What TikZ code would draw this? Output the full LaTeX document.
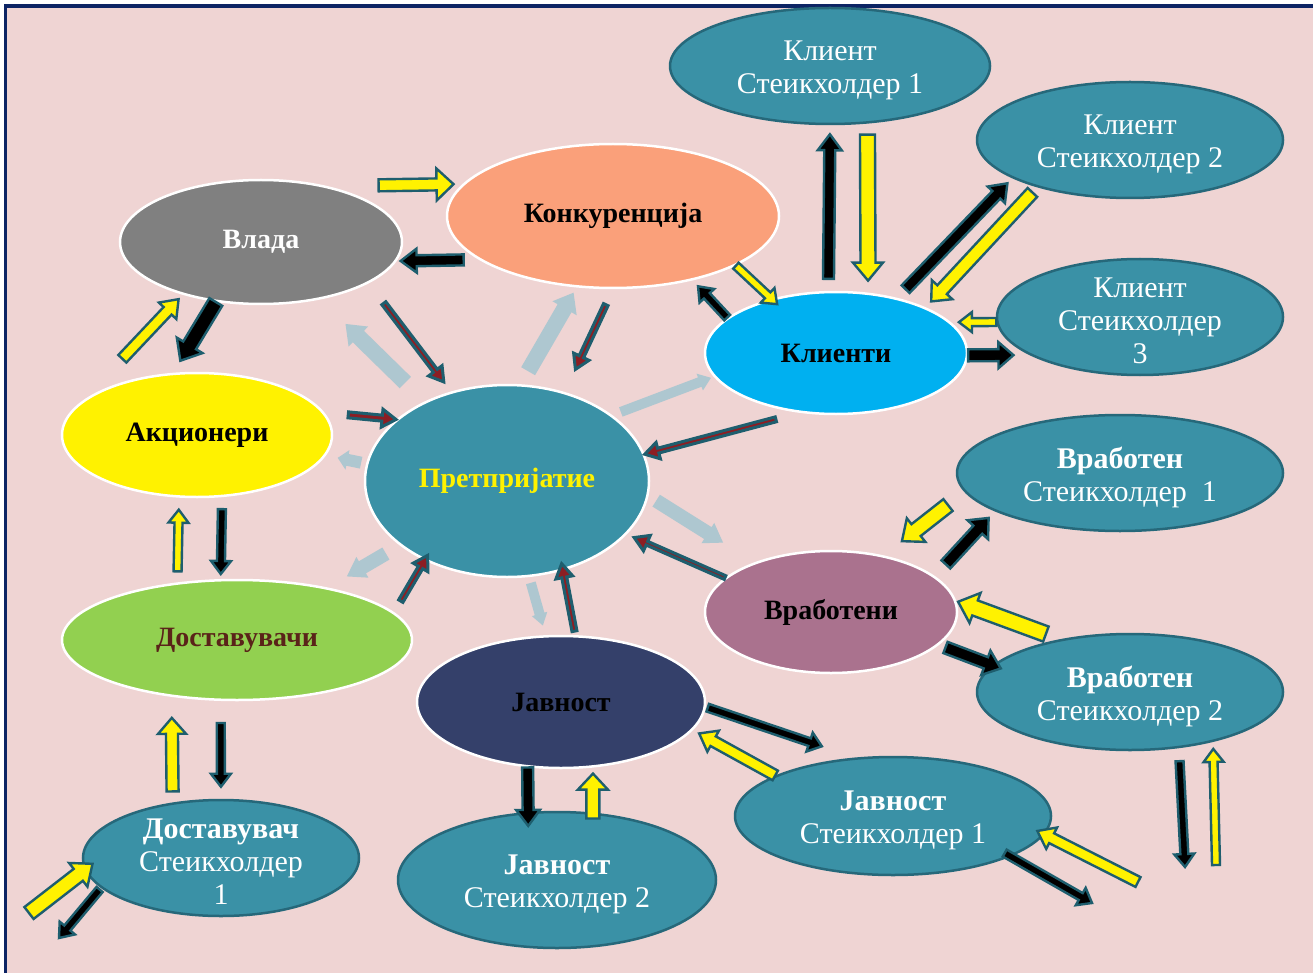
\documentclass[tikz,border=0pt]{standalone}
\usepackage{fontspec}
\setmainfont{Liberation Serif}
\usetikzlibrary{shapes.geometric,calc}

\definecolor{bgpink}{RGB}{239,212,211}
\definecolor{framenavy}{RGB}{12,36,100}
\definecolor{vladagray}{RGB}{128,128,128}
\definecolor{konksalmon}{RGB}{250,160,122}
\definecolor{klientblue}{RGB}{0,176,240}
\definecolor{hubteal}{RGB}{58,145,166}
\definecolor{staketeal}{RGB}{38,104,122}
\definecolor{dostgreen}{RGB}{146,208,80}
\definecolor{dostbrown}{RGB}{90,35,25}
\definecolor{javnnavy}{RGB}{52,64,106}
\definecolor{vrabmauve}{RGB}{170,114,142}
\definecolor{arrowline}{RGB}{30,94,110}
\definecolor{arrowred}{RGB}{140,30,35}
\definecolor{arrowlb}{RGB}{174,199,208}

\tikzset{
  aw/.store in=\aw, ah/.store in=\ah, al/.store in=\al,
  gs/.store in=\gs, ge/.store in=\ge,
  aw=5.5pt, ah=12pt, al=16pt, gs=0pt, ge=0pt,
  blockarrow/.style={to path={
    ($(\tikztostart)!\gs!(\tikztotarget)$) coordinate (ba-s)
    ($(\tikztotarget)!\ge!(\tikztostart)$) coordinate (ba-e)
    ($(ba-e)!\al!(ba-s)$) coordinate (ba-m)
    ($(ba-s)!\aw!90:(ba-e)$) -- ($(ba-m)!\aw!90:(ba-e)$) -- ($(ba-m)!\ah!90:(ba-e)$) -- (ba-e)
    -- ($(ba-m)!\ah!-90:(ba-e)$) -- ($(ba-m)!\aw!-90:(ba-e)$) -- ($(ba-s)!\aw!-90:(ba-e)$) -- cycle}},
  asmall/.style={aw=4pt, ah=10pt, al=13pt},
  alarge/.style={aw=7.5pt, ah=15pt, al=18pt},
  ylwA/.style={blockarrow, fill=yellow, draw=arrowline, line width=2.4pt},
  blkA/.style={blockarrow, fill=black, draw=arrowline, line width=2.4pt},
  redA/.style={blockarrow, fill=arrowred, draw=arrowline, line width=3pt, aw=2.5pt, ah=8.5pt, al=14pt},
  lbA/.style={blockarrow, fill=arrowlb, draw=none, aw=8pt, ah=14pt, al=18pt},
  hub/.style={ellipse, draw=white, line width=2.5pt, inner sep=0pt, font=\bfseries\fontsize{28}{32}\selectfont},
  stake/.style={ellipse, fill=hubteal, draw=staketeal, line width=2.5pt, inner sep=0pt,
    label={[text=white, align=center, yshift=-4pt, font=\fontsize{30}{33}\selectfont]center:#1}}
}

\begin{document}
\begin{tikzpicture}[x=1pt,y=-1pt]
  \useasboundingbox (0,0) rectangle (1313,973);
  \fill[white] (0,0) rectangle (1313,973);
  \fill[bgpink] (7,8) rectangle (1313,973);
  \fill[framenavy] (4,4) rectangle (1313,8);
  \fill[framenavy] (4,4) rectangle (7,973);

  \node[hub, fill=vladagray, text=white, minimum width=282pt, minimum height=124pt] (vlada) at (261,242) {Влада};
  \node[hub, fill=konksalmon, minimum width=332pt, minimum height=144pt] (konk) at (613,216) {Конкуренција};
  \node[hub, fill=klientblue, minimum width=262pt, minimum height=122pt] (klienti) at (836,353) {Клиенти};
  \node[hub, fill=yellow, minimum width=270pt, minimum height=124pt] (akc) at (197,435) {Акционери};
  \node[hub, fill=hubteal, text=yellow, minimum width=284pt, minimum height=192pt] (pret) at (507,481) {Претпријатие};
  \node[hub, fill=dostgreen, text=dostbrown, minimum width=350pt, minimum height=120pt] (dost) at (237,640) {Доставувачи};
  \node[hub, fill=javnnavy, minimum width=288pt, minimum height=132pt] (javn) at (561,702) {Јавност};
  \node[hub, fill=vrabmauve, minimum width=252pt, minimum height=122pt] (vrab) at (831,612) {Вработени};

  \node[stake={Клиент\\Стеикхолдер 1}, minimum width=320pt, minimum height=116pt] (ks1) at (830,66) {};
  \node[stake={Клиент\\Стеикхолдер 2}, minimum width=306pt, minimum height=116pt] (ks2) at (1130,140) {};
  \node[stake={Клиент\\Стеикхолдер\\3}, minimum width=286pt, minimum height=116pt] (ks3) at (1140,317) {};
  \node[stake={\textbf{Вработен}\\Стеикхолдер\ \ 1}, minimum width=326pt, minimum height=116pt] (vs1) at (1120,473) {};
  \node[stake={\textbf{Вработен}\\Стеикхолдер 2}, minimum width=306pt, minimum height=116pt] (vs2) at (1130,692) {};
  \node[stake={\textbf{Јавност}\\Стеикхолдер 1}, minimum width=316pt, minimum height=118pt] (js1) at (893,816) {};
  \node[stake={\textbf{Јавност}\\Стеикхолдер 2}, minimum width=318pt, minimum height=136pt] (js2) at (557,880) {};
  \node[stake={\textbf{Доставувач}\\Стеикхолдер\\1}, minimum width=276pt, minimum height=116pt] (ds1) at (221,858) {};

  \coordinate (dsin) at (29,913);
  \coordinate (dsout) at (59,938);
  \coordinate (jsin) at (1138,882);
  \coordinate (jsout) at (1092,903);
  \coordinate (vsin) at (1216,865);
  \coordinate (vsout) at (1185,867);

  \draw[ylwA, aw=6pt, ah=16pt, al=17pt] (vlada.40) to[gs=51pt, ge=9pt] (konk.168);
  \draw[blkA] (konk.198) to[gs=15pt, ge=4pt] (vlada.-8);
  \draw[ylwA] (akc.163) to[gs=57pt, ge=6pt] (vlada.-146);
  \draw[blkA, alarge] (vlada.-127) to[ge=14pt] (akc.111);
  \draw[lbA] (pret.136) to[gs=27pt, ge=35pt] (vlada.-44);
  \draw[redA] (vlada.-21) to[gs=25pt, ge=12pt] (pret.122);
  \draw[lbA] (pret.82) to[gs=15pt, ge=6pt] (konk.-117);
  \draw[redA] (konk.-90) to[gs=17pt, ge=25pt] (pret.57);
  \draw[redA, aw=3pt, ah=9pt] (akc.10) to[gs=24pt] (pret.151);
  \draw[lbA, aw=6pt, ah=10pt, al=10pt] (pret.173) to[gs=5pt, ge=12pt] (akc.-9);
  \draw[redA] (klienti.-121) to[gs=25pt] (pret.11);
  \draw[lbA, aw=5pt, ah=9pt, al=12pt] (pret.32) to[gs=9pt, ge=3pt] (klienti.-169);
  \draw[ylwA, asmall] (konk.-22) to[ge=-8pt] (klienti.140);
  \draw[blkA, asmall] (klienti.162) to[ge=8pt] (konk.-39);
  \draw[blkA] (klienti.97) to[gs=12pt, ge=9pt] (ks1.-90);
  \draw[ylwA, alarge] (ks1.-57) to[gs=11pt, ge=12pt] (klienti.62);
  \draw[blkA] (klienti.42) to[gs=12pt, ge=7pt] (ks2.-162);
  \draw[ylwA, aw=6.5pt, ah=14pt] (ks2.-153) to[gs=7pt, ge=8pt] (klienti.27);
  \draw[ylwA, asmall] (ks3.182) to[ge=8pt] (klienti.15);
  \draw[blkA, aw=6pt, ah=13pt, al=15pt] (klienti.-1) to[ge=16pt] (ks3.-161);
  \draw[ylwA, asmall] (dost.136) to[gs=11pt, ge=12pt] (akc.-106);
  \draw[blkA, asmall] (akc.-68) to[gs=12pt, ge=5pt] (dost.105);
  \draw[lbA, aw=7pt, ah=12pt] (pret.-149) to[gs=16pt, ge=22pt] (dost.30);
  \draw[redA] (dost.10) to[gs=13pt, ge=-6pt] (pret.-136);
  \draw[lbA, aw=5pt, ah=8pt, al=12pt] (pret.-77) to[gs=6pt, ge=10pt] (javn.103);
  \draw[redA] (javn.78) to[gs=4pt, ge=-7pt] (pret.-58);
  \draw[ylwA, aw=6pt, ah=14pt] (ds1.131) to[gs=11pt, ge=21pt] (dost.-139);
  \draw[blkA, asmall] (dost.-105) to[gs=22pt, ge=12pt] (ds1.90);
  \draw[ylwA, alarge] (dsin) to[ge=-10pt] (ds1.185);
  \draw[blkA, asmall] (ds1.194) to[gs=2pt] (dsout);
  \draw[blkA] (javn.-117) to[ge=-14pt] (js2.113);
  \draw[ylwA, aw=6.5pt, ah=15pt] (js2.62) to[gs=-6pt, ge=6pt] (javn.-64);
  \draw[redA, aw=2pt] (vrab.162) to[ge=8pt] (pret.-24);
  \draw[lbA, aw=7pt, ah=12pt] (pret.-6) to[gs=9pt, ge=37pt] (vrab.147);
  \draw[ylwA, alarge] (vs1.-173) to[gs=21pt, ge=23pt] (vrab.47);
  \draw[blkA, aw=6pt, ah=14pt] (vrab.19) to[gs=16pt, ge=9pt] (vs1.-163);
  \draw[ylwA, aw=8pt, ah=16pt, al=18pt] (vs2.143) to[gs=15pt, ge=2pt] (vrab.5);
  \draw[blkA, aw=6pt, ah=13pt] (vrab.-17) to[gs=7pt, ge=-9pt] (vs2.169);
  \draw[blkA, asmall] (javn.-2) to[gs=2pt, ge=35pt] (js1.123);
  \draw[ylwA] (js1.161) to[ge=7pt] (javn.-12);
  \draw[blkA, asmall] (js1.-19) to[gs=-7pt] (jsout);
  \draw[ylwA] (jsin) to[ge=-8pt] (js1.-7);
  \draw[blkA, asmall] (vs2.-49) to[gs=13pt] (vsout);
  \draw[ylwA, asmall] (vsin) to[ge=7pt] (vs2.-31);
\end{tikzpicture}
\end{document}
